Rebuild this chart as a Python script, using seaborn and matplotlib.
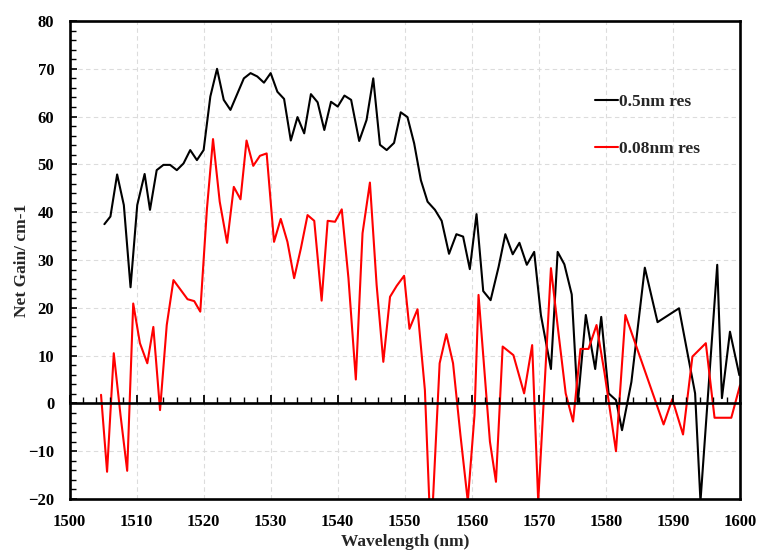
import numpy as np
import pandas as pd
import matplotlib
matplotlib.use("Agg")
import matplotlib.pyplot as plt
from matplotlib.ticker import MultipleLocator
import seaborn as sns

# ---- data ----
black_x = [1505.2, 1506.1, 1507.1, 1508.1, 1509.1, 1510.1, 1511.2, 1512.0, 1513.0, 1514.0,
           1515.0, 1516.0, 1517.0, 1518.0, 1519.0, 1520.0, 1521.0, 1522.0, 1523.0, 1524.0,
           1525.0, 1526.0, 1527.0, 1528.0, 1529.0, 1530.0, 1531.0, 1532.0, 1533.0, 1534.0,
           1535.0, 1536.0, 1537.0, 1538.0, 1539.0, 1540.0, 1541.0, 1542.0,
           1543.2, 1544.3, 1545.3, 1546.3, 1547.3, 1548.4, 1549.4, 1550.4, 1551.4, 1552.4,
           1553.4, 1554.5, 1555.5, 1556.6, 1557.7, 1558.7, 1559.7, 1560.7,
           1561.7, 1562.8, 1564.0, 1565.0, 1566.1, 1567.1, 1568.2, 1569.3, 1570.3, 1571.8,
           1572.8, 1573.8, 1574.9, 1575.8, 1577.0, 1578.4, 1579.3, 1580.4, 1581.5,
           1582.4, 1583.8, 1585.8, 1587.7, 1590.9, 1593.3, 1594.1, 1596.6, 1597.3, 1598.5, 1599.9]
black_y = [37.5, 39.1, 47.9, 41.5, 24.3, 41.5, 48.0, 40.5, 48.8, 49.9,
           49.9, 48.8, 50.2, 53.0, 50.9, 53.0, 64.2, 70.0, 63.5, 61.4,
           64.7, 68.0, 69.1, 68.4, 67.1, 69.1, 65.2, 63.7, 55.0, 59.9,
           56.5, 64.7, 63.0, 57.2, 63.1, 62.1, 64.4, 63.5,
           54.9, 59.3, 68.0, 54.1, 53.0, 54.5, 60.9, 59.9, 54.4, 46.7,
           42.2, 40.5, 38.2, 31.3, 35.4, 34.9, 28.1, 39.6,
           23.5, 21.6, 28.6, 35.4, 31.2, 33.6, 29.0, 31.7, 18.5, 7.2,
           31.7, 29.1, 22.8, 0.0, 18.5, 7.2, 18.1, 2.1, 0.7,
           -5.6, 4.5, 28.4, 17.0, 19.9, 2.1, -20.5, 29.0, 1.1, 15.0, 5.9]

red_x = [1504.7, 1505.6, 1506.6, 1507.6, 1508.6, 1509.5, 1510.5, 1511.6, 1512.5, 1513.5,
         1514.5, 1515.5, 1516.5, 1517.6, 1518.6, 1519.5, 1520.5, 1521.4, 1522.4, 1523.5,
         1524.5, 1525.5, 1526.4, 1527.4, 1528.4, 1529.4, 1530.5, 1531.5, 1532.5, 1533.5,
         1534.5, 1535.5, 1536.5, 1537.6, 1538.5, 1539.6, 1540.6, 1541.6, 1542.7, 1543.7,
         1544.8, 1545.8, 1546.8, 1547.8, 1548.8, 1549.9, 1550.7, 1551.9, 1553.0, 1553.9,
         1555.2, 1556.2, 1557.2, 1558.3, 1559.4, 1560.4, 1561.0, 1562.7, 1563.6, 1564.6,
         1566.2, 1567.8, 1569.0, 1569.9, 1570.9, 1571.8, 1572.9, 1574.0, 1575.1, 1576.2,
         1577.4, 1578.6, 1579.8, 1581.5, 1582.9, 1588.6, 1589.9, 1591.5, 1592.9, 1594.9,
         1596.2, 1598.7, 1600.0]
red_y = [1.8, -14.3, 10.5, -2.4, -14.1, 20.9, 12.6, 8.4, 16.0, -1.4,
         16.4, 25.8, 23.9, 21.8, 21.4, 19.2, 40.8, 55.3, 42.2, 33.6,
         45.3, 42.7, 55.0, 49.7, 51.8, 52.3, 33.8, 38.6, 33.8, 26.2,
         32.4, 39.4, 38.2, 21.5, 38.2, 38.0, 40.6, 26.2, 5.0, 35.6,
         46.2, 24.8, 8.7, 22.3, 24.6, 26.7, 15.6, 19.7, 2.8, -29.0,
         8.4, 14.5, 8.4, -6.6, -20.5, -2.4, 22.7, -8.0, -16.4, 11.9,
         10.1, 2.1, 12.2, -20.5, 5.0, 28.3, 15.0, 2.1, -3.8, 11.4,
         11.4, 16.4, 6.3, -10.0, 18.5, -4.4, 0.9, -6.5, 9.8, 12.6,
         -3.0, -3.0, 3.8]

series_names = ["0.5nm res", "0.08nm res"]
series_colors = ["#000000", "#ff0000"]
x_ticks = [1500, 1510, 1520, 1530, 1540, 1550, 1560, 1570, 1580, 1590, 1600]
y_ticks = [-20, -10, 0, 10, 20, 30, 40, 50, 60, 70, 80]

df = pd.concat([
    pd.DataFrame({"wl": black_x, "gain": black_y, "series": series_names[0]}),
    pd.DataFrame({"wl": red_x, "gain": red_y, "series": series_names[1]}),
], ignore_index=True)

sns.set_style("white")
plt.rcParams["font.family"] = ["Liberation Serif", "DejaVu Serif"]
plt.rcParams["font.weight"] = "bold"
plt.rcParams["axes.labelweight"] = "bold"
plt.rcParams["xtick.bottom"] = True
plt.rcParams["ytick.left"] = True
plt.rcParams["xtick.direction"] = "in"
plt.rcParams["ytick.direction"] = "in"
plt.rcParams["xtick.color"] = "black"
plt.rcParams["ytick.color"] = "black"

fig = plt.figure(figsize=(7.59, 5.5), dpi=100)
ax = fig.add_axes([0.0916, 0.0927, 0.8834, 0.8691])

sns.lineplot(data=df, x="wl", y="gain", hue="series",
             palette=dict(zip(series_names, series_colors)),
             sort=False, estimator=None, linewidth=1.5, ax=ax, legend=True)

ax.set_xlim(x_ticks[0], x_ticks[-1])
ax.set_ylim(y_ticks[0], y_ticks[-1])
ax.set_xticks(x_ticks)
ax.set_yticks(y_ticks)
ax.yaxis.set_minor_locator(MultipleLocator(2))

ax.grid(True, which="major", color="#dcdcdc", linestyle=(0, (4, 3)), linewidth=0.8)
ax.set_axisbelow(True)

for s in ax.spines.values():
    s.set_linewidth(1.9)
    s.set_color("black")

ax.tick_params(axis="x", which="both", length=0, pad=11, labelsize=12)
ax.tick_params(axis="y", which="major", direction="in", length=5, width=1.2,
               pad=11, labelsize=12, left=True, right=False)
ax.tick_params(axis="y", which="minor", direction="in", length=4, width=1.0,
               left=True, right=False)

# zero line with upward ticks: a transparent overlay axes whose bottom spine sits at y = 0
zero_frac = (0 - y_ticks[0]) / (y_ticks[-1] - y_ticks[0])
zax = ax.inset_axes([0, zero_frac, 1, 1 - zero_frac])
zax.patch.set_alpha(0)
zax.set_xlim(x_ticks[0], x_ticks[-1])
zax.xaxis.set_major_locator(MultipleLocator(10))
zax.xaxis.set_minor_locator(MultipleLocator(2))
zax.xaxis.set_ticks_position("bottom")
zax.yaxis.set_major_locator(matplotlib.ticker.NullLocator())
for side in ["top", "left", "right"]:
    zax.spines[side].set_visible(False)
zax.spines["bottom"].set_linewidth(1.9)
zax.spines["bottom"].set_color("black")
zax.xaxis.set_tick_params(which="major", direction="in", length=6, width=1.3,
                          color="black", bottom=True, top=False, labelbottom=False)
zax.xaxis.set_tick_params(which="minor", direction="in", length=4, width=1.0,
                          color="black", bottom=True, top=False, labelbottom=False)
zax.grid(False)

ax.set_xlabel("Wavelength (nm)", fontsize=12.5, fontweight="bold", labelpad=3)
ax.set_ylabel("Net Gain/ cm-1", fontsize=12.5, fontweight="bold", labelpad=-1)

handles, labels = ax.get_legend_handles_labels()
ax.legend(handles, labels, loc="upper left", bbox_to_anchor=(0.784, 0.847),
          frameon=False, handlelength=1.3, handletextpad=0.08,
          labelspacing=1.75, borderpad=0, borderaxespad=0,
          prop={"weight": "bold", "size": 12.5})

fig.savefig("out.png", dpi=100)
